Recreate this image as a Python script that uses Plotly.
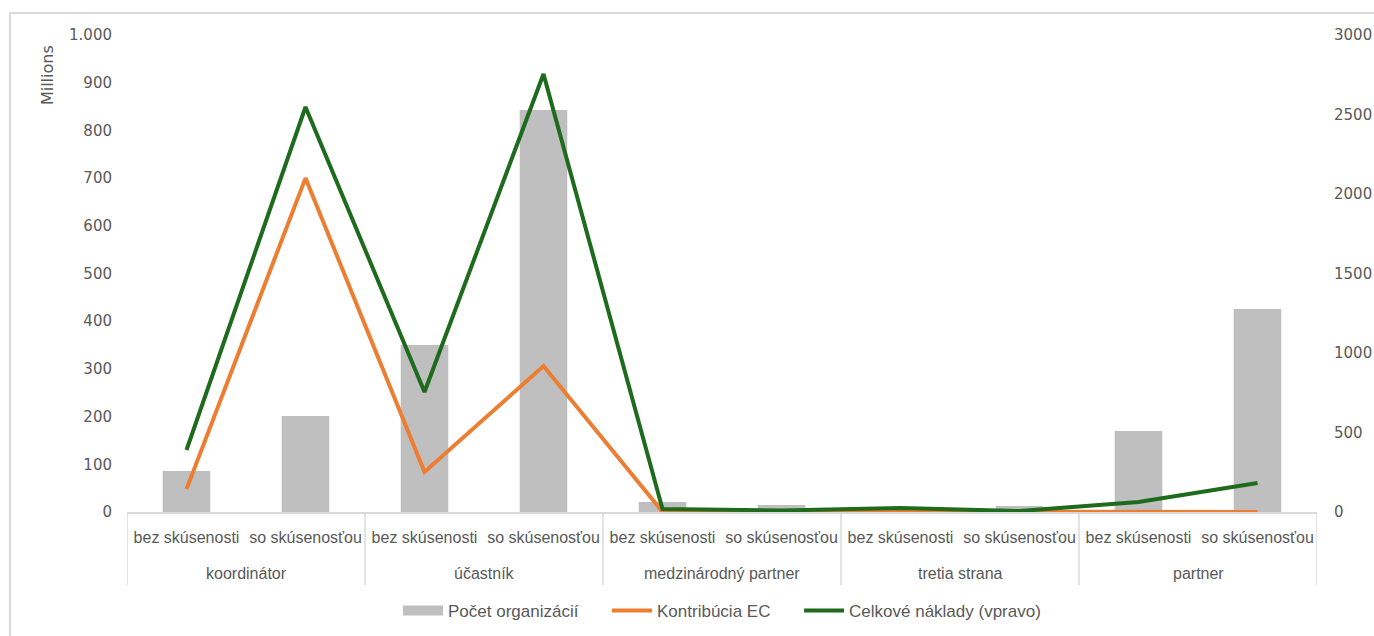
import plotly.graph_objects as go

roles = ["koordinátor", "koordinátor", "účastník", "účastník",
         "medzinárodný partner", "medzinárodný partner",
         "tretia strana", "tretia strana", "partner", "partner"]
experience = ["bez skúsenosti", "so skúsenosťou"] * 5

pocet_organizacii = [258, 604, 1050, 2528, 63, 44, 31, 38, 509, 1277]
kontribucia_ec = [48, 700, 84, 306, 0.5, 0.3, 1, 0.3, 0.2, 0.2]
celkove_naklady = [390, 2547, 755, 2755, 19, 10, 25, 6, 63, 182]

left_ticks = list(range(0, 1001, 100))
right_ticks = list(range(0, 3001, 500))

# category positions derived from the lists
pos = list(range(len(experience)))
groups = []
for i, r in enumerate(roles):
    if not groups or groups[-1][0] != r:
        groups.append([r, i, i])
    else:
        groups[-1][2] = i

GREY = "#595959"
LINE = "#d9d9d9"
BAR = "#bfbfbf"
CAT_FONT = "Liberation Sans, Arial, sans-serif"
NUM_FONT = "DejaVu Sans, sans-serif"
PAD = "\u00a0" * 5

fig = go.Figure()
# bars on the right-hand axis (y), drawn first
fig.add_trace(go.Bar(x=pos, y=pocet_organizacii, name="Počet organizácií",
                     marker=dict(color=BAR, line=dict(width=0)), yaxis="y",
                     showlegend=False, legendgroup="bar"))
# legend proxy for bar series (wide rectangle swatch)
fig.add_trace(go.Scatter(x=[None], y=[None], name="Počet organizácií" + PAD, mode="lines",
                         line=dict(color=BAR, width=12), yaxis="y", legendgroup="bar"))
# EC contribution on the left (millions) axis, overlaying bars
fig.add_trace(go.Scatter(x=pos, y=kontribucia_ec, name="Kontribúcia EC" + PAD, mode="lines",
                         line=dict(color="#ed7d31", width=4), yaxis="y2"))
# total costs on the right scale, drawn on top
fig.add_trace(go.Scatter(x=pos, y=celkove_naklady, name="Celkové náklady (vpravo)", mode="lines",
                         line=dict(color="#1e6b1e", width=4), yaxis="y3"))

shapes = []
bounds = [groups[0][1] - 0.5] + [g[2] + 0.5 for g in groups]
for b in bounds:
    shapes.append(dict(type="line", xref="x", yref="paper", x0=b, x1=b, y0=0, y1=-0.153,
                       line=dict(color=LINE, width=1.5), layer="below"))
shapes.append(dict(type="rect", xref="paper", yref="paper", x0=-0.0983, x1=1.08, y0=-0.4, y1=1.046,
                   line=dict(color=LINE, width=2), fillcolor="rgba(0,0,0,0)", layer="below"))

annotations = [dict(text="Millions", xref="paper", yref="paper", x=-0.0672, y=0.916,
                    xanchor="center", yanchor="middle", textangle=-90, showarrow=False,
                    font=dict(family=NUM_FONT, size=16, color=GREY))]
for name, a, b in groups:
    annotations.append(dict(text=name, xref="x", yref="paper", x=(a + b) / 2, y=-0.128,
                            xanchor="center", yanchor="middle", showarrow=False,
                            font=dict(family=CAT_FONT, size=16, color=GREY)))

fig.update_layout(
    width=1374, height=636,
    margin=dict(l=127, r=57, t=35, b=124, autoexpand=False),
    paper_bgcolor="white", plot_bgcolor="white",
    separators=",.",
    bargap=0.6,
    font=dict(family=CAT_FONT, size=16, color=GREY),
    xaxis=dict(range=[-0.5, len(pos) - 0.5], tickmode="array", tickvals=pos, ticktext=experience,
               showline=True, linecolor=LINE, linewidth=1.5, showgrid=False, ticks="",
               zeroline=False, tickfont=dict(family=CAT_FONT, size=16, color=GREY),
               ticklabelstandoff=10, automargin=False),
    yaxis=dict(range=[0, 3000], tickmode="array", tickvals=right_ticks, side="right",
               showgrid=False, zeroline=False, showline=False, ticks="",
               tickfont=dict(family=NUM_FONT, size=15, color=GREY), ticklabelstandoff=16,
               automargin=False),
    yaxis2=dict(range=[0, 1000], tickmode="array", tickvals=left_ticks, separatethousands=True,
                overlaying="y", side="left",
                showgrid=False, zeroline=False, showline=False, ticks="",
                tickfont=dict(family=NUM_FONT, size=15, color=GREY), ticklabelstandoff=14,
                automargin=False),
    yaxis3=dict(range=[0, 3000], overlaying="y", side="right", showticklabels=False,
                showgrid=False, zeroline=False, showline=False, ticks="", automargin=False),
    legend=dict(orientation="h", x=0.5, xanchor="center", yref="container", y=0.0393,
                yanchor="middle", font=dict(family=CAT_FONT, size=17, color=GREY), itemwidth=40),
    showlegend=True,
    annotations=annotations,
    shapes=shapes,
)

fig.write_html("out.html", config={"displayModeBar": False},
               post_script="document.body.style.margin='0';document.body.style.overflow='hidden';")
